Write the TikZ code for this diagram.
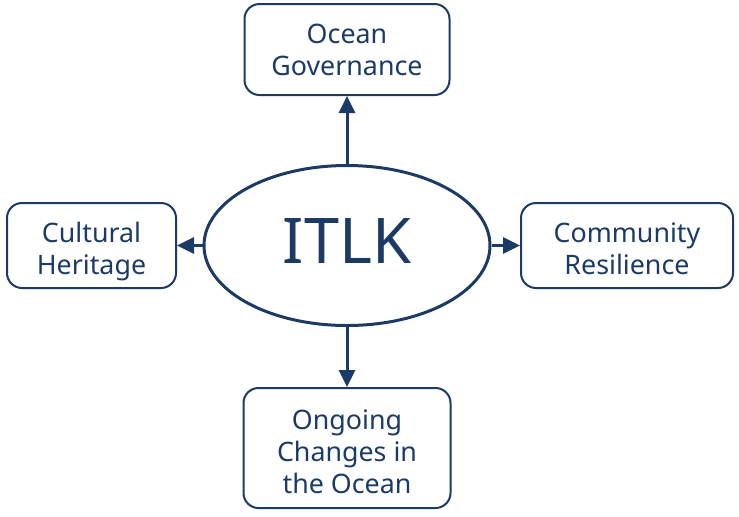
\documentclass[tikz,border=0pt]{standalone}
\usepackage{fontspec}
\setmainfont{Noto Sans}
\usepackage{xcolor}
\usetikzlibrary{arrows.meta,positioning,shapes.geometric}
\definecolor{itlknavy}{HTML}{1C3A66}
\tikzset{
  hubnode/.style={ellipse, draw=itlknavy, line width=1.5pt, inner sep=0pt, minimum width=143pt, minimum height=80pt, text=itlknavy, text depth=5pt, font=\fontsize{31.5}{36}\selectfont},
  themenode/.style={draw=itlknavy, line width=1pt, rounded corners=7.5pt, align=center, inner sep=0pt, text=itlknavy, font=\fontsize{13.4}{16}\selectfont},
  sidenode/.style={themenode, minimum height=42.5pt, text height=29pt, text depth=0pt},
  link/.style={itlknavy, -{Triangle[length=8.5pt,width=8pt]}, line width=1.5pt}
}
\begin{document}
\begin{tikzpicture}[x=0.5pt, y=-0.5pt]
  \useasboundingbox (0,0) rectangle (739,516);
  \node[hubnode] (itlk) at (347,245.5) {ITLK};
  \node[themenode, minimum width=102.5pt, minimum height=45.5pt] (gov) at (347,49.5) {Ocean\\Governance};
  \node[themenode, minimum width=103.5pt, minimum height=60pt, text height=45.7pt, text depth=0pt] (chg) at (347,448) {Ongoing\\Changes in\\the Ocean};
  \node[sidenode, minimum width=84.5pt] (cult) at (91.5,245.5) {Cultural\\Heritage};
  \node[sidenode, minimum width=106pt] (res) at (627,245.5) {Community\\Resilience};
  \draw[link] (itlk) -- (gov);
  \draw[link] (itlk) -- (chg);
  \draw[link] (itlk) -- (cult);
  \draw[link] (itlk) -- (res);
\end{tikzpicture}
\end{document}
